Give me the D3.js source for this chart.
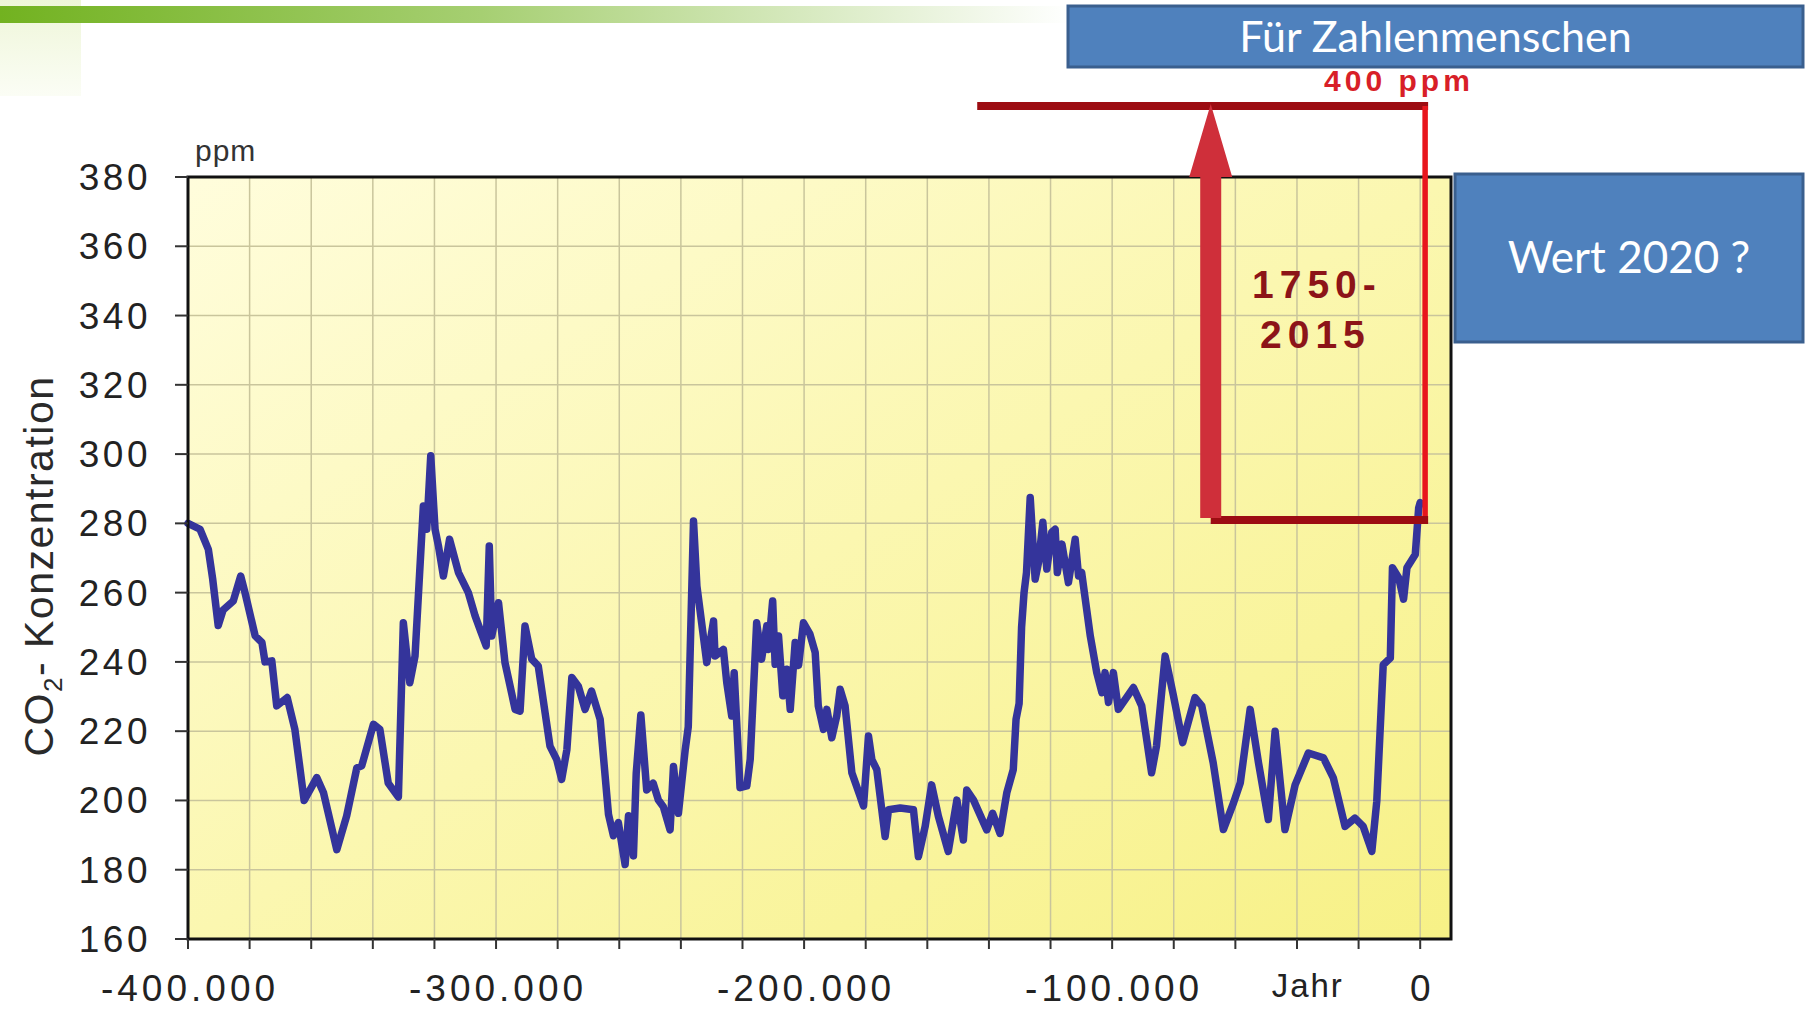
<!DOCTYPE html>
<html>
<head>
<meta charset="utf-8">
<script src="https://cdnjs.cloudflare.com/ajax/libs/d3/7.8.5/d3.min.js"></script>
<style>
  body { margin: 0; background: #fff; }
  svg { display: block; }
</style>
</head>
<body>
<div id="chart"></div>
<script>
// CO2 from ice cores: time in thousand years before today, ppm
var kyr = [-400, -396.1, -393.4, -392, -390.2, -388.6, -385.3, -382.9, -381.5, -378.2,
  -376, -375, -372.8, -371.2, -367.8, -365.3, -362.3, -358.2, -356, -351.7,
  -348.5, -345.2, -343.6, -339.8, -337.7, -335, -331.7, -330.1, -328, -326.3,
  -323.6, -322.5, -321.2, -319.8, -318.7, -317.1, -315.1, -312.2, -309, -306.8,
  -305.2, -303.2, -302.2, -301.4, -299.2, -297.1, -293.8, -292.2, -290.6, -288.4,
  -286.3, -282.5, -280.3, -278.7, -277, -275.4, -273.3, -271.1, -269, -266.2,
  -263.5, -261.9, -260.3, -258.1, -257, -255.4, -254.5, -253, -251.1, -249,
  -247.3, -245.7, -243.5, -242.4, -240.8, -238.6, -237.6, -235.9, -234.8, -231.6,
  -229.4, -228.9, -226.2, -225.1, -223.5, -222.7, -220.8, -218.6, -217.5, -215.4,
  -213.8, -212.1, -211.6, -210.2, -209.4, -208.3, -206.9, -205.6, -204.5, -202.9,
  -201.8, -200.2, -198.1, -196.4, -195.4, -193.7, -192.6, -191, -189.4, -188.3,
  -186.7, -184.5, -180.7, -179.1, -178, -176.4, -173.7, -172.6, -168.8, -164.5,
  -162.9, -160.7, -158.6, -156.4, -153.2, -150.4, -148.3, -147.2, -145, -140.7,
  -138.8, -136.4, -134.2, -132.1, -131.2, -130.2, -129.4, -128.6, -127.8, -126.6,
  -125, -123.9, -122.5, -121.2, -119.6, -118.5, -117.8, -116.3, -114.2, -112,
  -110.9, -109.9, -107.1, -105, -103.3, -102.3, -101.2, -99.6, -98, -93.1,
  -90.4, -87.2, -85.6, -82.8, -80.1, -77.1, -73.1, -70.9, -67.2, -63.9,
  -60.6, -58.4, -55.2, -52.5, -49.3, -47.1, -43.9, -40.6, -36.3, -31.4,
  -28.2, -24.4, -21.2, -18.5, -15.7, -14.1, -12, -9.7, -9, -7,
  -5.4, -4.3, -1.6, -0.5, 0];

var co2 = [280, 278.3, 272.5, 264, 250.5, 255, 257.6, 264.8, 260, 247.5,
  245.6, 240, 240.3, 227.3, 229.7, 220.5, 200, 206.6, 202.2, 185.8,
  195.5, 209.4, 210, 222, 220.5, 205, 201, 251.3, 234, 241.7,
  285, 278.3, 299.5, 278.3, 273.5, 264.8, 275.4, 265.8, 260, 253.3,
  249.4, 244.6, 273.5, 247.5, 257.1, 239.8, 226.3, 225.8, 250.4, 240.8,
  238.8, 215.7, 211.8, 206.1, 214.7, 235.5, 233, 226.3, 231.6, 223.4,
  196, 189.8, 193.6, 181.5, 195.6, 184, 207.8, 224.7, 203, 205,
  200.1, 198.2, 191.5, 209.8, 196.3, 214.6, 221.3, 280.7, 261.9, 239.8,
  251.8, 241.7, 243.6, 234, 224.4, 236.9, 203.7, 204.2, 211.8, 251.3,
  240.8, 250.4, 243.6, 257.6, 239.3, 247.5, 230.2, 237.9, 226.3, 245.6,
  239, 251.3, 248, 242.7, 227.3, 220.5, 226.3, 218.1, 224.4, 232.1,
  227.3, 208, 198.4, 218.6, 211.8, 208.9, 189.6, 197.3, 197.8, 197.3,
  183.8, 192.5, 204.5, 195.4, 185.3, 200.1, 188.6, 203, 200.1, 191.5,
  196.3, 190.5, 202.2, 208.9, 223.4, 228, 250, 260, 265.8, 287.5,
  263.9, 268.7, 280.3, 266.8, 277.4, 278.3, 265.8, 274, 262.9, 275.4,
  264.8, 265.8, 247.5, 236.9, 231.1, 236.9, 228.3, 236.9, 226.3, 232.6,
  227.3, 208, 215.7, 241.7, 230.2, 216.7, 229.7, 227.3, 210.9, 191.6,
  199.3, 205.1, 226.3, 210.9, 194.5, 220, 191.6, 204.5, 213.7, 212.3,
  206.5, 192.5, 194.9, 192.5, 185.3, 199.7, 239.2, 241.1, 267.2, 264.3,
  258.1, 267.2, 271, 284.4, 286];

// axis ticks
var xTickValues = [-400000, -300000, -200000, -100000, 0];
var xGridValues = [-400000, -380000, -360000, -340000, -320000, -300000, -280000,
  -260000, -240000, -220000, -200000, -180000, -160000, -140000, -120000,
  -100000, -80000, -60000, -40000, -20000, 0];
var yTickValues = [160, 180, 200, 220, 240, 260, 280, 300, 320, 340, 360, 380];

// 1750-2015 bracket: ppm levels and years (start of top line, arrow, right edge)
var bracketPpm = [400.5, 281];
var bracketYears = [-143800, -68000, 1600];

var title = 'Für Zahlenmenschen';
var question = 'Wert 2020 ?';
var bracketLabel = ['1750-', '2015'];

// Set margin parameters
var margin = {top: 177, left: 188},
    width = 1263,
    height = 762;

var x = d3.scaleLinear().domain([-400000, 10000]).range([0, width]);
var y = d3.scaleLinear().domain([160, 380]).range([height, 0]);

var de = d3.formatLocale({decimal: ',', thousands: '.', grouping: [3], currency: ['', ' €'], minus: '-'});
var fmt = de.format(',');

var data = kyr.map(function(k, i) { return {year: k * 1000, ppm: co2[i]}; });

var svg = d3.select('#chart')
    .append('svg')
    .attr('width', 1806)
    .attr('height', 1010);

var defs = svg.append('defs');

var bg = defs.append('linearGradient')
    .attr('id', 'plotBg')
    .attr('x1', '0%').attr('y1', '0%')
    .attr('x2', '100%').attr('y2', '100%');
bg.append('stop').attr('offset', '0%').attr('stop-color', '#fffddc');
bg.append('stop').attr('offset', '50%').attr('stop-color', '#fbf7b0');
bg.append('stop').attr('offset', '100%').attr('stop-color', '#f7f186');

var bar = defs.append('linearGradient')
    .attr('id', 'greenBar')
    .attr('x1', '0%').attr('x2', '100%');
bar.append('stop').attr('offset', '0%').attr('stop-color', '#72b220');
bar.append('stop').attr('offset', '45%').attr('stop-color', '#a6cf72');
bar.append('stop').attr('offset', '100%').attr('stop-color', '#ffffff');

var corner = defs.append('linearGradient')
    .attr('id', 'corner')
    .attr('x1', '0%').attr('y1', '0%').attr('x2', '0%').attr('y2', '100%');
corner.append('stop').attr('offset', '0%').attr('stop-color', '#eef6d8');
corner.append('stop').attr('offset', '100%').attr('stop-color', '#fbfdf5');

// slide decoration top left
svg.append('rect')
    .attr('x', 0).attr('y', 0)
    .attr('width', 81).attr('height', 96)
    .attr('fill', 'url(#corner)');

svg.append('rect')
    .attr('x', 0).attr('y', 6)
    .attr('width', 1070).attr('height', 17)
    .attr('fill', 'url(#greenBar)');

var g = svg.append('g')
    .attr('transform', 'translate(' + margin.left + ',' + margin.top + ')');

// plot background
g.append('rect')
    .attr('width', width)
    .attr('height', height)
    .attr('fill', 'url(#plotBg)');

// grid lines
g.selectAll('.vgrid')
    .data(xGridValues)
    .enter().append('line')
    .attr('class', 'vgrid')
    .attr('x1', function(d) { return x(d); })
    .attr('x2', function(d) { return x(d); })
    .attr('y1', 0)
    .attr('y2', height)
    .attr('stroke', '#c9c59c')
    .attr('stroke-width', 1.5);

g.selectAll('.hgrid')
    .data(yTickValues)
    .enter().append('line')
    .attr('class', 'hgrid')
    .attr('x1', 0)
    .attr('x2', width)
    .attr('y1', function(d) { return y(d); })
    .attr('y2', function(d) { return y(d); })
    .attr('stroke', '#c9c59c')
    .attr('stroke-width', 1.5);

// CO2 line
var line = d3.line()
    .x(function(d) { return x(d.year); })
    .y(function(d) { return y(d.ppm); });

g.append('path')
    .datum(data)
    .attr('fill', 'none')
    .attr('stroke', '#34349b')
    .attr('stroke-width', 7.5)
    .attr('stroke-linejoin', 'round')
    .attr('stroke-linecap', 'round')
    .attr('d', line);

// frame
g.append('rect')
    .attr('width', width)
    .attr('height', height)
    .attr('fill', 'none')
    .attr('stroke', '#111')
    .attr('stroke-width', 3);

// y ticks
g.selectAll('.ytick')
    .data(yTickValues)
    .enter().append('line')
    .attr('x1', -13).attr('x2', 0)
    .attr('y1', function(d) { return y(d); })
    .attr('y2', function(d) { return y(d); })
    .attr('stroke', '#333')
    .attr('stroke-width', 2);

g.selectAll('.ylabel')
    .data(yTickValues)
    .enter().append('text')
    .attr('x', -37)
    .attr('y', function(d) { return y(d) + 13; })
    .attr('text-anchor', 'end')
    .style('font-family', '"Liberation Sans", Arial, sans-serif')
    .style('font-size', '37px')
    .style('letter-spacing', '3.5px')
    .attr('fill', '#222')
    .text(function(d) { return d; });

// x ticks
g.selectAll('.xtick')
    .data(xGridValues)
    .enter().append('line')
    .attr('x1', function(d) { return x(d); })
    .attr('x2', function(d) { return x(d); })
    .attr('y1', height)
    .attr('y2', height + 10)
    .attr('stroke', '#333')
    .attr('stroke-width', 2);

g.selectAll('.xlabel')
    .data(xTickValues)
    .enter().append('text')
    .attr('x', function(d) { return x(d) + 2; })
    .attr('y', height + 62)
    .attr('text-anchor', 'middle')
    .style('font-family', '"Liberation Sans", Arial, sans-serif')
    .style('font-size', '37px')
    .style('letter-spacing', '4px')
    .attr('fill', '#222')
    .text(function(d) { return fmt(d); });

g.append('text')
    .attr('x', x(-36500))
    .attr('y', height + 58)
    .attr('text-anchor', 'middle')
    .style('font-family', '"Liberation Sans", Arial, sans-serif')
    .style('font-size', '33px')
    .style('letter-spacing', '2px')
    .attr('fill', '#222')
    .text('Jahr');

// unit above the axis
g.append('text')
    .attr('x', 7)
    .attr('y', -16)
    .style('font-family', '"Liberation Sans", Arial, sans-serif')
    .style('font-size', '30px')
    .style('letter-spacing', '1px')
    .attr('fill', '#333')
    .text('ppm');

// y axis title
var yTitle = svg.append('text')
    .attr('transform', 'translate(53,566) rotate(-90)')
    .attr('text-anchor', 'middle')
    .style('font-family', '"Liberation Sans", Arial, sans-serif')
    .style('font-size', '41px')
    .style('letter-spacing', '1.5px')
    .attr('fill', '#2a2a2a');
yTitle.append('tspan').text('CO');
yTitle.append('tspan').attr('dy', 9).style('font-size', '26px').text('2');
yTitle.append('tspan').attr('dy', -9).text('- Konzentration');

// 1750-2015 bracket
g.append('line')
    .attr('x1', x(bracketYears[0]))
    .attr('x2', x(bracketYears[2]) + 3)
    .attr('y1', y(bracketPpm[0]))
    .attr('y2', y(bracketPpm[0]))
    .attr('stroke', '#9c0c12')
    .attr('stroke-width', 8);

g.append('line')
    .attr('x1', x(bracketYears[2]))
    .attr('x2', x(bracketYears[2]))
    .attr('y1', y(bracketPpm[0]))
    .attr('y2', y(bracketPpm[1]) + 2)
    .attr('stroke', '#e8161d')
    .attr('stroke-width', 5.5);

g.append('line')
    .attr('x1', x(bracketYears[1]))
    .attr('x2', x(bracketYears[2]) + 3)
    .attr('y1', y(bracketPpm[1]))
    .attr('y2', y(bracketPpm[1]))
    .attr('stroke', '#9c0c12')
    .attr('stroke-width', 8);

// arrow from today's level up to 400 ppm
var ax = x(bracketYears[1]);
var arrowPath = d3.path();
arrowPath.moveTo(ax - 10.5, y(bracketPpm[1]) - 2);
arrowPath.lineTo(ax - 10.5, y(380));
arrowPath.lineTo(ax - 21.5, y(380));
arrowPath.lineTo(ax, y(bracketPpm[0]) - 2);
arrowPath.lineTo(ax + 21.5, y(380));
arrowPath.lineTo(ax + 10.5, y(380));
arrowPath.lineTo(ax + 10.5, y(bracketPpm[1]) - 2);
arrowPath.closePath();

g.append('path')
    .attr('d', arrowPath.toString())
    .attr('fill', '#cf2f3a');

g.append('text')
    .attr('x', x(bracketYears[2]) - 101)
    .attr('y', y(bracketPpm[0]) - 15)
    .style('font-family', '"Liberation Sans", Arial, sans-serif')
    .style('font-weight', 'bold')
    .style('font-size', '30px')
    .style('letter-spacing', '4px')
    .attr('fill', '#d81f28')
    .text('400 ppm');

g.selectAll('.bracketLabel')
    .data(bracketLabel)
    .enter().append('text')
    .attr('x', function(d, i) { return 1252 - margin.left + i * 8; })
    .attr('y', function(d, i) { return 298 - margin.top + i * 50; })
    .style('font-family', '"Liberation Sans", Arial, sans-serif')
    .style('font-weight', 'bold')
    .style('font-size', '39px')
    .style('letter-spacing', '6px')
    .attr('fill', '#8c1418')
    .text(function(d) { return d; });

// blue call-out boxes
function box(x0, y0, w, h, label, size, baseline) {
  svg.append('rect')
      .attr('x', x0).attr('y', y0)
      .attr('width', w).attr('height', h)
      .attr('fill', '#4f81bd')
      .attr('stroke', '#3a5f8e')
      .attr('stroke-width', 3);
  svg.append('text')
      .attr('x', x0 + w / 2)
      .attr('y', baseline)
      .attr('text-anchor', 'middle')
      .style('font-family', 'Lato, "Open Sans", sans-serif')
      .style('font-size', size + 'px')
      .attr('fill', '#fff')
      .text(label);
}

box(1068, 6, 735, 61, title, 43, 52);
box(1455, 174, 348, 168, question, 44, 273);
</script>
</body>
</html>
